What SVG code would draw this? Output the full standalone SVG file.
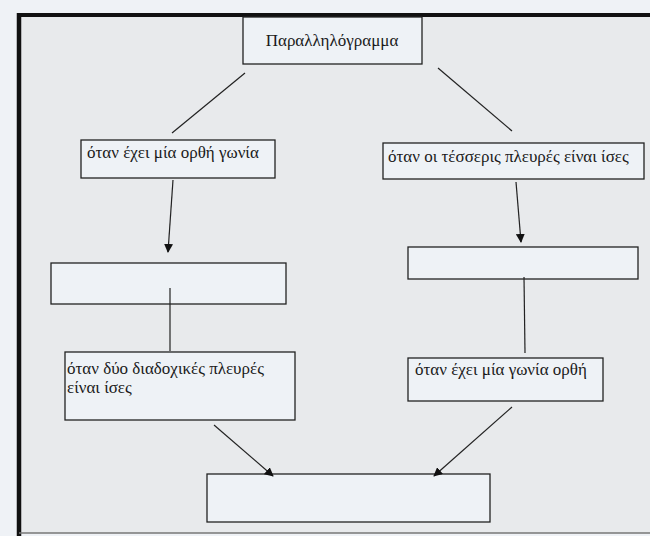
<svg xmlns="http://www.w3.org/2000/svg" width="650" height="536" viewBox="0 0 650 536">
  <defs>
    <marker id="arr" viewBox="0 0 10 10" refX="9" refY="5" markerWidth="9" markerHeight="9" markerUnits="userSpaceOnUse" orient="auto">
      <path d="M0,0 L10,5 L0,10 z" fill="#111"/>
    </marker>
  </defs>
  <style>
    .box { fill: #eef2f6; stroke: #222; stroke-width: 1.3; }
    .lbl { font-family: 'Liberation Serif', 'Times New Roman', 'DejaVu Serif', serif; font-size: 17px; fill: #1a1a1a; }
    .conn line { stroke: #222; stroke-width: 1.2; }
  </style>
  <rect x="0" y="0" width="650" height="536" fill="#eff2f6"/>
  <rect x="19" y="15" width="640" height="518" fill="#e8eaec"/>
  <line x1="19" y1="15" x2="650" y2="15" stroke="#111" stroke-width="4"/>
  <line x1="19" y1="13" x2="19" y2="536" stroke="#111" stroke-width="4.5"/>
  <line x1="19" y1="533" x2="650" y2="533" stroke="#777" stroke-width="1.5"/>

  <g id="n-parallelogram">
    <rect class="box" x="243" y="17" width="179" height="47"/>
    <text class="lbl" x="332" y="46" text-anchor="middle">Παραλληλόγραμμα</text>
  </g>
  <g id="n-right-angle">
    <rect class="box" x="81" y="140" width="194" height="38"/>
    <text class="lbl" x="87" y="158">όταν έχει μία ορθή γωνία</text>
  </g>
  <g id="n-equal-sides">
    <rect class="box" x="383" y="143" width="261" height="36"/>
    <text class="lbl" x="388" y="162">όταν οι τέσσερις πλευρές είναι ίσες</text>
  </g>
  <g id="n-empty-left">
    <rect class="box" x="51" y="263" width="235" height="41"/>
  </g>
  <g id="n-empty-right">
    <rect class="box" x="408" y="247" width="230" height="32"/>
  </g>
  <g id="n-adjacent-sides">
    <rect class="box" x="65" y="352" width="230" height="68"/>
    <text class="lbl" x="67" y="374">όταν δύο διαδοχικές πλευρές</text>
    <text class="lbl" x="67" y="393">είναι ίσες</text>
  </g>
  <g id="n-angle-right">
    <rect class="box" x="408" y="358" width="195" height="43"/>
    <text class="lbl" x="415" y="375">όταν έχει μία γωνία ορθή</text>
  </g>
  <g id="n-empty-bottom">
    <rect class="box" x="207" y="474" width="283" height="48"/>
  </g>

  <g id="connectors" class="conn">
    <line x1="245" y1="73" x2="172" y2="133"/>
    <line x1="438" y1="68" x2="512" y2="131"/>
    <line x1="173" y1="180" x2="168" y2="252" marker-end="url(#arr)"/>
    <line x1="516" y1="182" x2="521" y2="242" marker-end="url(#arr)"/>
    <line x1="170" y1="288" x2="170" y2="351"/>
    <line x1="524" y1="277" x2="525" y2="353"/>
    <line x1="214" y1="425" x2="273" y2="476" marker-end="url(#arr)"/>
    <line x1="512" y1="407" x2="434" y2="476" marker-end="url(#arr)"/>
  </g>
</svg>
